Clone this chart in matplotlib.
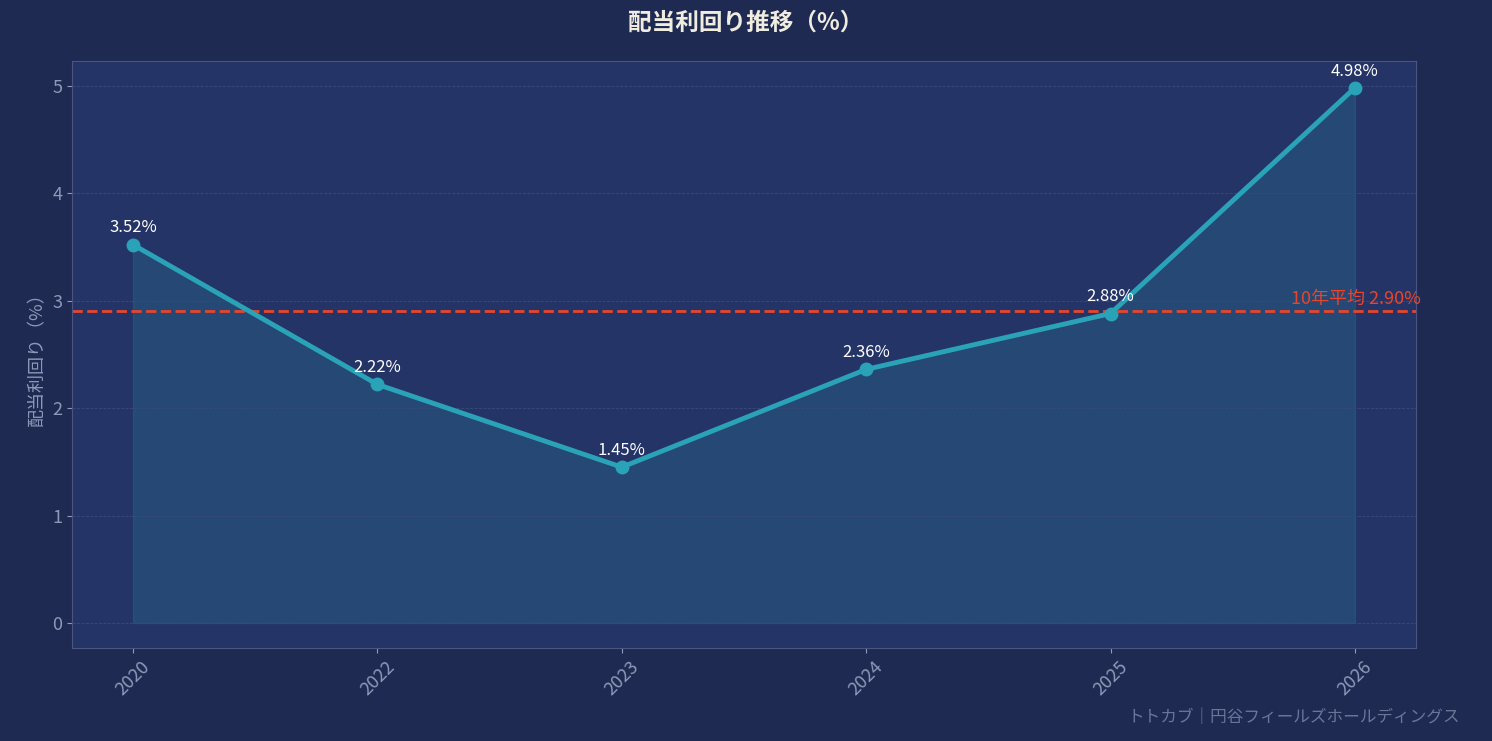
import matplotlib
matplotlib.use("Agg")
import matplotlib.pyplot as plt

plt.rcParams['font.family'] = ['Noto Sans CJK JP', 'DejaVu Sans']

years = ["2020", "2022", "2023", "2024", "2025", "2026"]
yields = [3.52, 2.22, 1.45, 2.36, 2.88, 4.98]
avg = 2.90

bg = '#1e2a52'
axbg = '#243466'
line_c = '#2aa3b8'
red = '#e8452c'

fig = plt.figure(figsize=(14.92, 7.41), dpi=100, facecolor=bg)
ax = fig.add_axes([72/1492, 1-648/741, (1416-72)/1492, (648-61)/741])
ax.set_facecolor(axbg)
x = list(range(len(years)))
ax.fill_between(x, yields, 0, color=line_c, alpha=0.18, edgecolor=line_c, linewidth=1)
ax.plot(x, yields, color=line_c, lw=3.5, marker='o', ms=9, zorder=3)
for xi, v in zip(x, yields):
    ax.annotate(f"{v:.2f}%", (xi, v), xytext=(0, 6), textcoords='offset points',
                ha='center', va='bottom', color='white', fontsize=12)
ax.axhline(avg, color=red, ls='--', lw=2)
ax.text(5.27, avg + 0.03, f"10年平均 {avg:.2f}%", color=red, fontsize=13, ha='right', va='bottom')
ax.set_xlim(-0.25, 5.25)
ax.set_ylim(-0.233, 5.23)
ax.set_xticks(x)
ax.set_xticklabels(years, rotation=45, color='#8e99b8', fontsize=13)
ax.set_yticks(range(6))
ax.tick_params(axis='y', colors='#8e99b8', labelsize=13)
ax.tick_params(axis='x', colors='#8e99b8')
ax.grid(axis='y', color='#3a4a7a', ls='--', lw=0.6)
for s in ax.spines.values():
    s.set_color('#4a5680')
ax.set_ylabel("配当利回り（%）", color='#8e99b8', fontsize=13)
fig.suptitle("配当利回り推移（%）", color='#f0ece0', fontsize=17, fontweight='bold', y=0.985)
fig.text(1460/1492, 15/741, "トトカブ｜円谷フィールズホールディングス", color='#6a7598', fontsize=12, ha='right', va='bottom')
fig.savefig("out.png", dpi=100, facecolor=bg)
